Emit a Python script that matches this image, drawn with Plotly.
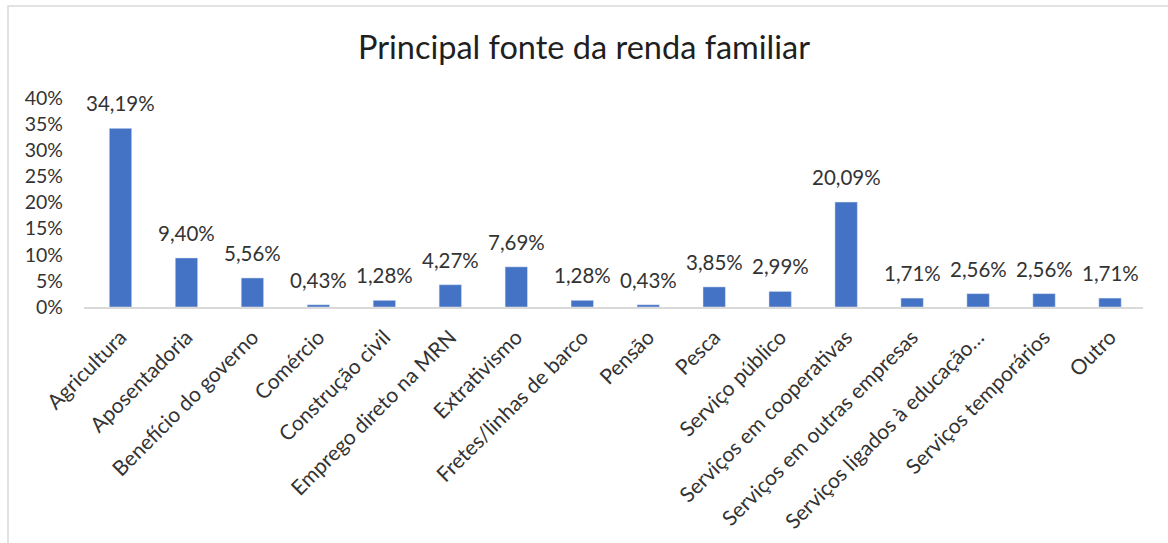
import plotly.graph_objects as go

categories = ["Agricultura", "Aposentadoria", "Benefício do governo", "Comércio",
              "Construção civil", "Emprego direto na MRN", "Extrativismo",
              "Fretes/linhas de barco", "Pensão", "Pesca", "Serviço público",
              "Serviços em cooperativas", "Serviços em outras empresas",
              "Serviços ligados à educação…", "Serviços temporários", "Outro"]
values = [34.19, 9.40, 5.56, 0.43, 1.28, 4.27, 7.69, 1.28, 0.43, 3.85, 2.99,
          20.09, 1.71, 2.56, 2.56, 1.71]
labels = [f"{v:.2f}%".replace(".", ",") for v in values]
tick_vals = [0, 5, 10, 15, 20, 25, 30, 35, 40]
tick_text = [f"{t}%" for t in tick_vals]

FONT = "Lato, 'Open Sans', sans-serif"
W, H = 1168, 543
ml, mr, mt, mb = 84, 25, 98, 236

fig = go.Figure(go.Bar(
    x=categories, y=values,
    marker=dict(color="#4472C4"), cliponaxis=False,
))

for c, v, t in zip(categories, values, labels):
    fig.add_annotation(x=c, y=v, text=t, showarrow=False, yanchor="bottom",
                       yshift=11, font=dict(size=20.5, color="#333333", family=FONT))

pw = W - ml - mr
ph = H - mt - mb
fig.update_layout(
    width=W, height=H,
    margin=dict(l=ml, r=mr, t=mt, b=mb, autoexpand=False),
    paper_bgcolor="white", plot_bgcolor="white",
    bargap=0.66,
    showlegend=False,
    title=dict(text="Principal fonte da renda familiar", x=0.5, xanchor="center",
               y=1 - 48 / H, yanchor="middle",
               font=dict(size=32.5, color="#1f1f1f", family=FONT)),
    font=dict(family=FONT, color="#333333"),
    xaxis=dict(tickangle=-45, showline=True, linecolor="#D9D9D9", linewidth=1.5,
               ticks="", tickfont=dict(size=21, color="#333333"), showgrid=False,
               ticklabelstandoff=8, automargin=False),
    yaxis=dict(range=[0, 40], tickvals=tick_vals, ticktext=tick_text,
               showgrid=False, zeroline=False, showline=False, ticks="",
               tickfont=dict(size=19.5, color="#333333"), ticklabelstandoff=20,
               automargin=False),
    shapes=[dict(type="rect", xref="paper", yref="paper",
                 x0=(8 - ml) / pw, x1=(W + 5 - ml) / pw,
                 y0=-(H + 5 - mt - ph) / ph, y1=1 + (mt - 6) / ph,
                 line=dict(color="#D9D9D9", width=1.5), layer="below")],
)

fig.write_html("out.html")
